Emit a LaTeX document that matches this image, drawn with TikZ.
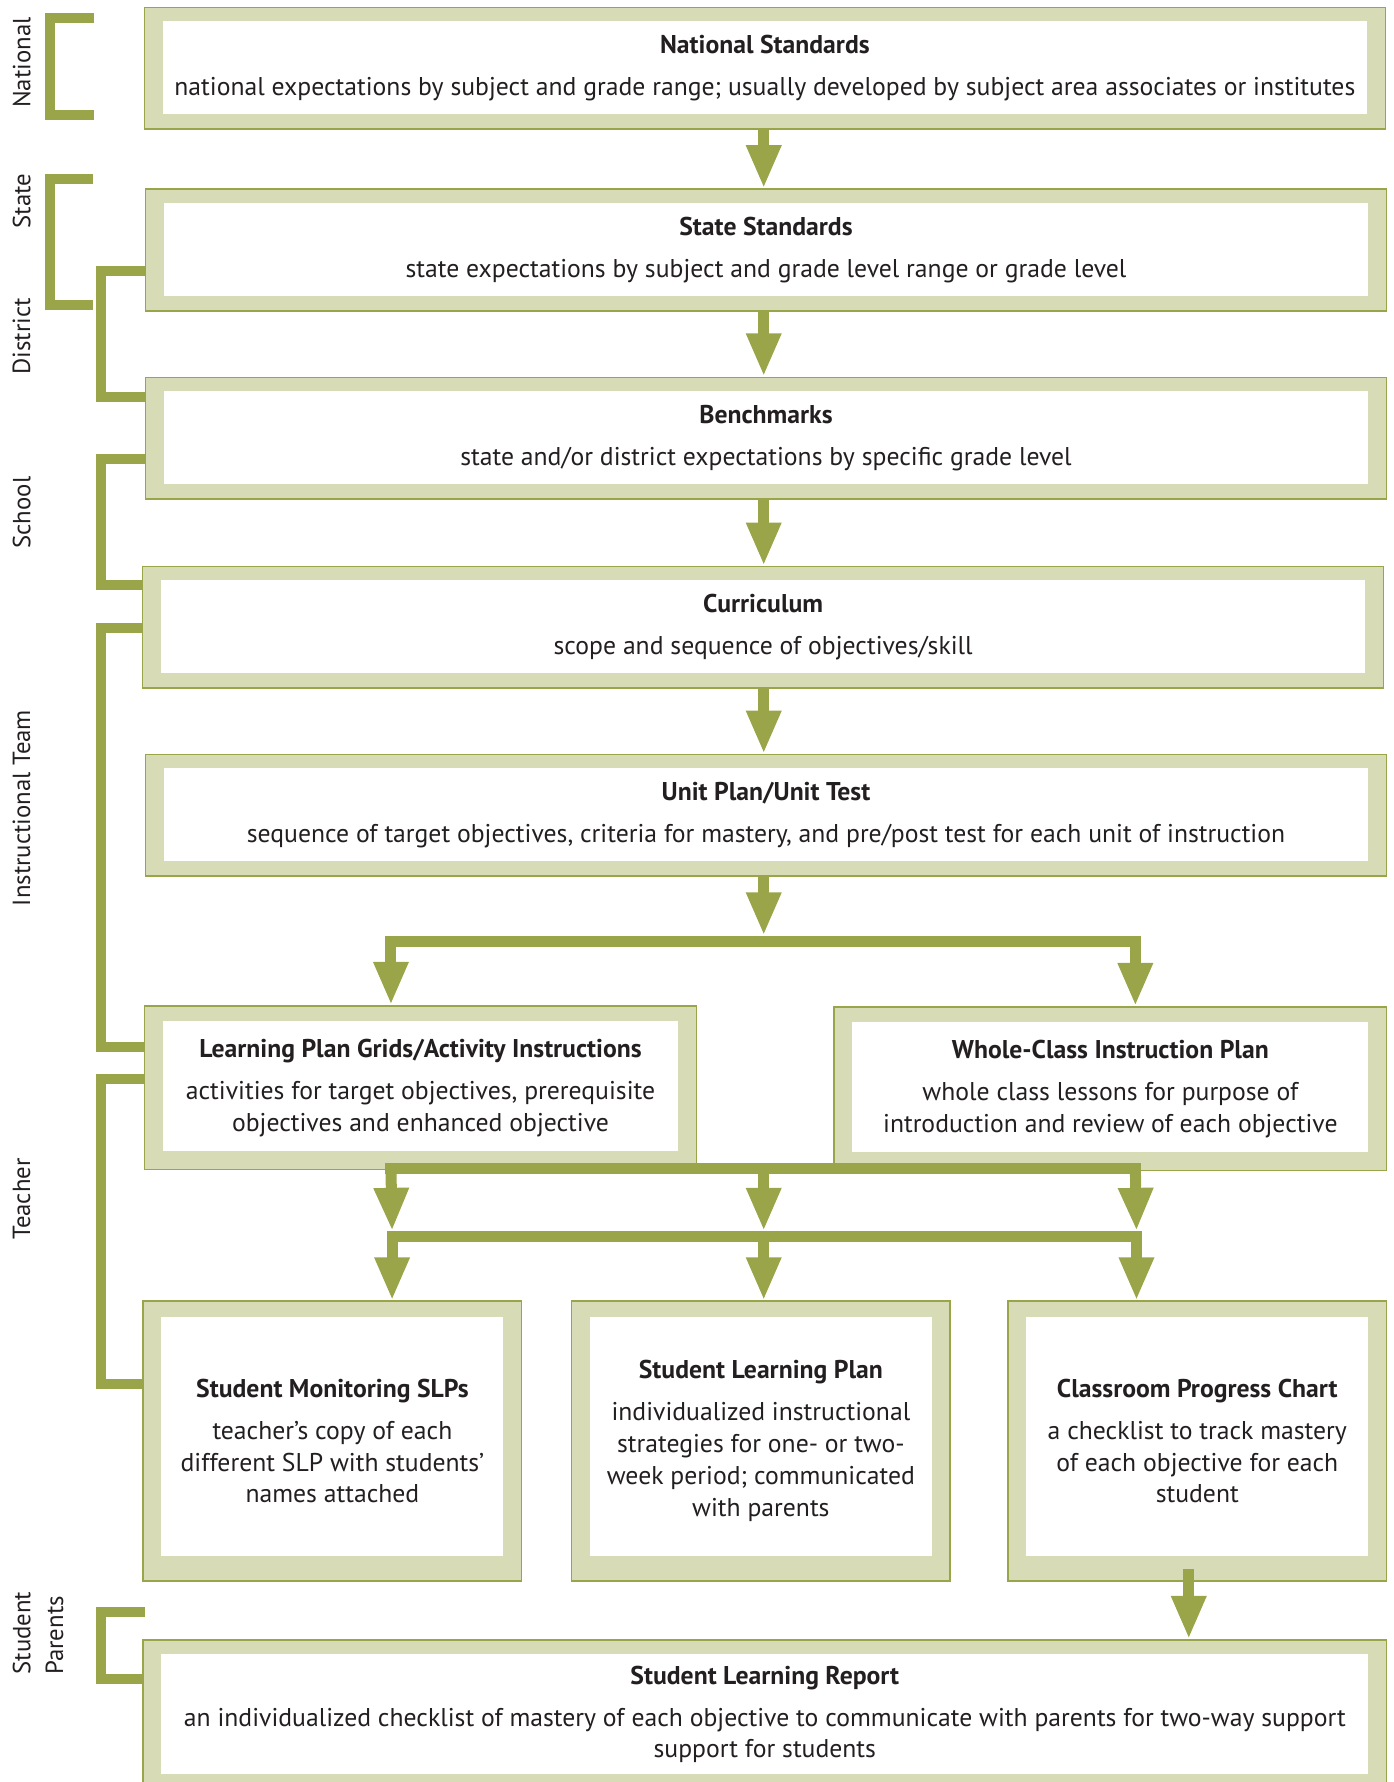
\documentclass[tikz,border=0pt]{standalone}
\usepackage{fontspec}
\setmainfont{PT Sans}
\usetikzlibrary{arrows.meta}

\definecolor{olivedark}{RGB}{153,165,72}
\definecolor{oliveband}{RGB}{215,220,182}
\definecolor{inktext}{RGB}{35,31,32}

\newcommand{\bodysize}{\fontsize{11.3}{14}\selectfont}
\newcommand{\levelsize}{\fontsize{10.9}{13}\selectfont}
\newcommand{\boxtitle}[1]{{\bfseries #1}\\[4.5pt]}

\tikzset{
  framed/.style 2 args={draw=olivedark, line width=0.7pt, fill=oliveband,
    inner sep=0pt, align=center, text=inktext, font=\bodysize,
    path picture={\fill[white]
      ([xshift=8pt,yshift=-#1]path picture bounding box.north west) rectangle
      ([xshift=-8pt,yshift=#2]path picture bounding box.south east);}},
  widebox/.style={framed={6pt}{6.5pt}, minimum width=546pt, minimum height=53.5pt},
  midbox/.style={framed={6.5pt}{8pt}, minimum width=243pt, minimum height=72pt},
  tallbox/.style={framed={7pt}{11pt}, minimum width=166.5pt, minimum height=123pt},
  flow/.style={draw=olivedark, line width=4.85pt, -{Triangle[length=19pt, width=14.25pt]}},
  bar/.style={draw=olivedark, line width=4.85pt, line cap=rect},
  bracket/.style={draw=olivedark, line width=4.4pt},
  level/.style={rotate=90, text=inktext, font=\levelsize}
}

\begin{document}
\begin{tikzpicture}[x=0.5pt, y=-0.5pt]
\useasboundingbox (0,0) rectangle (1226,1568);

% main column
\node[widebox] (nat) at (673,60) {\boxtitle{National Standards}national expectations by subject and grade range; usually developed by subject area associates or institutes};
\node[widebox] (state) at (674,220) {\boxtitle{State Standards}state expectations by subject and grade level range or grade level};
\node[widebox] (bench) at (674,385.5) {\boxtitle{Benchmarks}state and/or district expectations by specific grade level};
\node[widebox] (curr) at (671.5,552) {\boxtitle{Curriculum}scope and sequence of objectives/skill};
\node[widebox] (unit) at (674,717.5) {\boxtitle{Unit Plan/Unit Test}sequence of target objectives, criteria for mastery, and pre/post test for each unit of instruction};

% plans
\node[midbox] (lpg) at (370,957) {\boxtitle{Learning Plan Grids/Activity Instructions}activities for target objectives, prerequisite\\objectives and enhanced objective};
\node[midbox] (wc) at (977,958) {\boxtitle{Whole-Class Instruction Plan}whole class lessons for purpose of\\introduction and review of each objective};

% tools
\node[tallbox] (smon) at (292.5,1268) {\boxtitle{Student Monitoring SLPs}teacher’s copy of each\\different SLP with students’\\names attached};
\node[tallbox] (slp) at (669.5,1268) {\boxtitle{Student Learning Plan}individualized instructional\\strategies for one- or two-\\week period; communicated\\with parents};
\node[tallbox] (cpc) at (1053.5,1268) {\boxtitle{Classroom Progress Chart}a checklist to track mastery\\of each objective for each\\student};

% report
\node[framed={6pt}{6.5pt}, minimum width=547pt, minimum height=65.5pt] (slr) at (673,1508.5) {\boxtitle{Student Learning Report}an individualized checklist of mastery of each objective to communicate with parents for two-way support\\support for students};

% main arrows
\coordinate (col) at (672,0);
\draw[flow] (nat.south -| col) -- (state.north -| col);
\draw[flow] (state.south -| col) -- (bench.north -| col);
\draw[flow] (bench.south -| col) -- (curr.north -| col);
\draw[flow] (curr.south -| col) -- (unit.north -| col);

% first split
\coordinate (s1l) at (344,828);
\coordinate (s1m) at (672,828);
\coordinate (s1r) at (999,828);
\draw[bar] (s1l) -- (s1r);
\draw[flow] (unit.south -| col) -- ([yshift=2.4pt]s1m);
\draw[flow] (s1l) -- (s1l |- lpg.north);
\draw[flow] (s1r) -- (s1r |- wc.north);

% second split
\coordinate (s2l) at (344,1028);
\coordinate (s2m) at (672,1028);
\coordinate (s2r) at (999,1028);
\coordinate (s3l) at (345,1088);
\coordinate (s3m) at (672,1088);
\coordinate (s3r) at (1000,1088);
\draw[bar] (s2l) -- (s2r);
\draw[bar] (s3l) -- (s3r);
\draw[flow] (s2l) -- ([yshift=2.4pt]s3l);
\draw[flow] (s2m) -- ([yshift=2.4pt]s3m);
\draw[flow] (s2r) -- ([yshift=2.4pt]s3r);
\draw[flow] (s3l) -- (s3l |- smon.north);
\draw[flow] (s3m) -- (s3m |- slp.north);
\draw[flow] (s3r) -- (s3r |- cpc.north);

% to report
\coordinate (rep) at (1046,0);
\draw[flow] ([yshift=5.5pt]cpc.south -| rep) -- (slr.north -| rep);

% level brackets
\draw[bracket] (83,16) -- (43.6,16) -- (43.6,101) -- (83,101);
\draw[bracket] (82,157.5) -- (43.6,157.5) -- (43.6,268.5) -- (82,268.5);
\coordinate (dtop) at (89,238.5);
\coordinate (dbot) at (89,349.5);
\draw[bracket] (state.west |- dtop) -- (dtop) -- (dbot) -- (bench.west |- dbot);
\coordinate (stop) at (89,403.5);
\coordinate (sbot) at (89,515);
\draw[bracket] (bench.west |- stop) -- (stop) -- (sbot) -- (curr.west |- sbot);
\coordinate (itop) at (89,553);
\coordinate (ibot) at (89,921);
\draw[bracket] (curr.west |- itop) -- (itop) -- (ibot) -- (lpg.west |- ibot);
\coordinate (ttop) at (89,949);
\coordinate (tbot) at (89,1218);
\draw[bracket] (lpg.west |- ttop) -- (ttop) -- (tbot) -- (smon.west |- tbot);
\coordinate (ptop) at (89,1418);
\coordinate (pbot) at (89,1477);
\coordinate (pend) at (128,1418);
\draw[bracket] (pend) -- (ptop) -- (pbot) -- (slr.west |- pbot);

% level labels
\node[level] (lnat) at (19,55) {National};
\node[level] (lstate) at (19,177) {State};
\node[level] (ldist) at (19,296) {District};
\node[level] (lschool) at (19,451) {School};
\node[level] (linstr) at (19,711) {Instructional Team};
\node[level] (lteach) at (19,1055) {Teacher};
\node[level] (lstud) at (19,1437) {Student};
\node[level] (lpar) at (48,1439) {Parents};
\end{tikzpicture}
\end{document}
